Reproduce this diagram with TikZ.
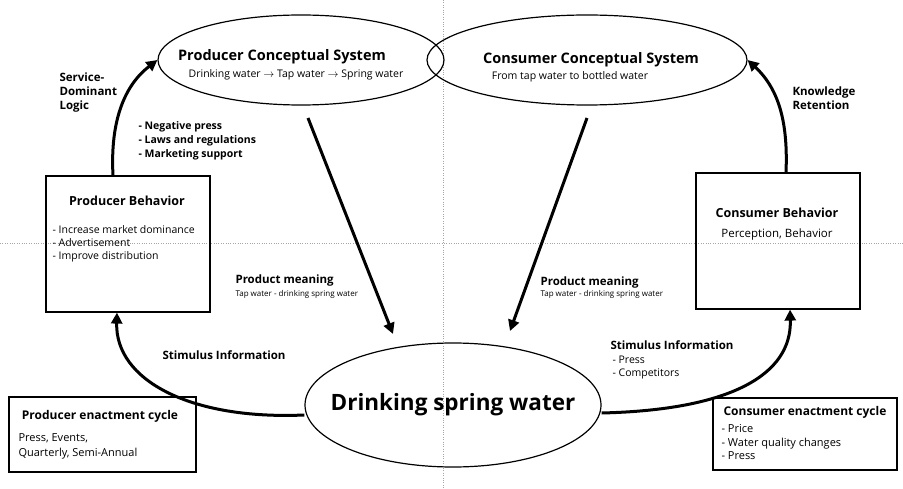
\documentclass[tikz,border=0pt]{standalone}
\usepackage{fontspec}
\setmainfont{Open Sans}
\usetikzlibrary{shapes.geometric,arrows.meta}
\begin{document}
\begin{tikzpicture}[x=1pt,y=-1pt,
  ell/.style={draw,ellipse,line width=1.2pt,inner sep=0pt},
  box/.style={draw,line width=1.2pt,inner sep=0pt},
  big/.style={line width=3pt,-{Triangle[length=11pt,width=11pt]}},
  lbl/.style={font=\bfseries\fontsize{11.5}{14}\selectfont,align=left},
  sm/.style={font=\fontsize{8}{9}\selectfont,align=left},
  txt/.style={font=\fontsize{10.5}{13}\selectfont,align=left}]
\useasboundingbox (0,0) rectangle (903,489);
\fill[white] (0,0) rectangle (903,489);
\draw[gray!70,dotted] (0,243) -- (903,243);
\draw[gray!70,dotted] (443,0) -- (443,489);
\node[ell,minimum width=286,minimum height=90] (pcs) at (301,60) {};
\node[ell,minimum width=320,minimum height=90] (ccs) at (587,60) {};
\node[ell,minimum width=296,minimum height=124] (dsw) at (453,405) {};
\node[box,minimum width=164,minimum height=136] (pb) at (128,244) {};
\node[box,minimum width=164,minimum height=136] (cb) at (778,241) {};
\node[box,minimum width=187,minimum height=75] (pec) at (102.5,434.5) {};
\node[box,minimum width=184,minimum height=72] (cec) at (805,434) {};
\node[font=\bfseries\fontsize{14.5}{16}\selectfont] (t1) at (282,57) {Producer Conceptual System};
\node[txt,font=\fontsize{10.5}{12}\selectfont] (t2) at (296,75) {Drinking water $\rightarrow$ Tap water $\rightarrow$ Spring water};
\node[font=\bfseries\fontsize{14.5}{16}\selectfont] (t3) at (591,60) {Consumer Conceptual System};
\node[txt,font=\fontsize{10.5}{12}\selectfont] (t4) at (570,77) {From tap water to bottled water};
\node[font=\bfseries\fontsize{22.5}{24}\selectfont] (t5) at (453,405) {Drinking spring water};
\node[font=\bfseries\fontsize{12.5}{14}\selectfont] (t6) at (127,201) {Producer Behavior};
\node[txt,anchor=north west] (t7) at (49,222) {- Increase market dominance\\- Advertisement\\- Improve distribution};
\node[font=\bfseries\fontsize{12.5}{14}\selectfont] (t8) at (777,213) {Consumer Behavior};
\node[txt,font=\fontsize{11.5}{13}\selectfont] (t9) at (777,235) {Perception, Behavior};
\node[font=\bfseries\fontsize{12}{14}\selectfont] (t10) at (100,416) {Producer enactment cycle};
\node[txt,anchor=north west,font=\fontsize{11}{15}\selectfont] (t11) at (15,430) {Press, Events,\\Quarterly, Semi-Annual};
\node[font=\bfseries\fontsize{12}{14}\selectfont] (t12) at (805,412) {Consumer enactment cycle};
\node[txt,anchor=north west,font=\fontsize{11}{13.5}\selectfont] (t13) at (718,421) {- Price\\- Water quality changes\\- Press};
\node[lbl,anchor=north west] (t14) at (56,69) {Service-\\Dominant\\Logic};
\node[lbl,anchor=north west] (t15) at (789,83) {Knowledge\\Retention};
\node[lbl,anchor=north west,font=\bfseries\fontsize{10.5}{14}\selectfont] (t16) at (135,118) {- Negative press\\- Laws and regulations\\- Marketing support};
\node[lbl,anchor=west] (t17) at (232,281) {Product meaning};
\node[sm,anchor=west] (t18) at (232,294) {Tap water - drinking spring water};
\node[lbl,anchor=west] (t19) at (537,283) {Product meaning};
\node[sm,anchor=west] (t20) at (537,294) {Tap water - drinking spring water};
\node[lbl,anchor=west] (t21) at (159,355) {Stimulus Information};
\node[lbl,anchor=west] (t22) at (607,345) {Stimulus Information};
\node[txt,anchor=north west] (t23) at (609,352) {- Press\\- Competitors};
\coordinate (a1) at (308,118); \coordinate (a2) at (393,334);
\coordinate (b1) at (587,118); \coordinate (b2) at (510,331);
\draw[big] (a1) -- (a2);
\draw[big] (b1) -- (b2);
\draw[big] (pb.north -| 113,0) .. controls (110,120) and (125,85) .. (pcs.west);
\draw[big] (cb.north -| 786,0) .. controls (788,125) and (780,90) .. (ccs.east);
\draw[big] (dsw.west |- 0,415) .. controls (190,420) and (115,380) .. (pb.south -| 117,0);
\draw[big] (dsw.east |- 0,413) .. controls (730,410) and (792,375) .. (cb.south -| 790,0);
\end{tikzpicture}
\end{document}
